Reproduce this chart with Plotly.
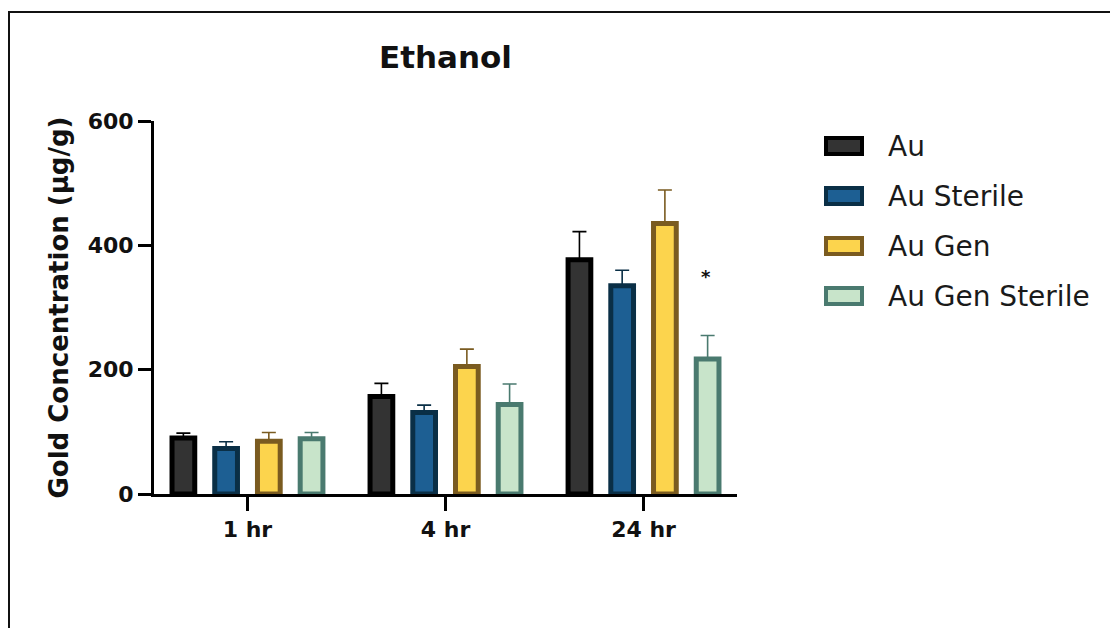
import plotly.graph_objects as go

# ---- data ----
categories = ["1 hr", "4 hr", "24 hr"]
series_names = ["Au", "Au Sterile", "Au Gen", "Au Gen Sterile"]
au_vals = [90, 157, 377]
au_err = [8, 21, 45]
au_sterile_vals = [73, 131, 335]
au_sterile_err = [11, 12, 25]
au_gen_vals = [85, 205, 435]
au_gen_err = [14, 28, 54]
au_gen_sterile_vals = [89, 144, 217]
au_gen_sterile_err = [10, 33, 38]
y_ticks = [0, 200, 400, 600]
star_label = "*"
star_category = "24 hr"
star_y = 350

values = [au_vals, au_sterile_vals, au_gen_vals, au_gen_sterile_vals]
errors = [au_err, au_sterile_err, au_gen_err, au_gen_sterile_err]

# ---- styles ----
fills = ["#333333", "#1d5f93", "#fcd44d", "#c8e4ca"]
edges = ["#000000", "#0a2f46", "#7a5b20", "#4a7a6f"]
FONT = "DejaVu Sans"

W, H = 1110, 628
L, R, T, B = 154, 373, 121, 134
PW, PH = W - L - R, H - T - B


def px_to_paper_x(px):
    return (px - L) / PW


def px_to_paper_y(py):
    return (H - B - py) / PH


fig = go.Figure()
for name, v, e, fc, ec in zip(series_names, values, errors, fills, edges):
    fig.add_trace(go.Bar(
        name=name, x=categories, y=v,
        marker=dict(color=fc, line=dict(color=ec, width=5)),
        error_y=dict(type="data", array=e, symmetric=False, arrayminus=[0] * len(e),
                     color=ec, thickness=1.6, width=7),
        showlegend=False,
    ))

# custom legend (large swatches like the original)
shapes = []
annotations = []
leg_x0, leg_x1 = 824, 864
leg_y0 = 146
leg_dy = 50
for i, (name, fc, ec) in enumerate(zip(series_names, fills, edges)):
    cy = leg_y0 + i * leg_dy
    shapes.append(dict(type="rect", xref="paper", yref="paper",
                       x0=px_to_paper_x(leg_x0 + 2), x1=px_to_paper_x(leg_x1 - 2),
                       y0=px_to_paper_y(cy - 8), y1=px_to_paper_y(cy + 8),
                       fillcolor=fc, line=dict(color=ec, width=4)))
    annotations.append(dict(xref="paper", yref="paper", x=px_to_paper_x(886),
                            y=px_to_paper_y(cy), text=name, showarrow=False,
                            xanchor="left", yanchor="middle",
                            font=dict(family=FONT, size=28, color="#1a1a1a")))

# outer frame (cropped at right/bottom as in the original)
shapes.append(dict(type="rect", xref="paper", yref="paper",
                   x0=px_to_paper_x(9), x1=px_to_paper_x(W + 20),
                   y0=px_to_paper_y(H + 20), y1=px_to_paper_y(12),
                   line=dict(color="#111111", width=2), fillcolor="rgba(0,0,0,0)",
                   layer="below"))

# y-axis title
annotations.append(dict(xref="paper", yref="paper", x=px_to_paper_x(58), y=0.5,
                        text="Gold Concentration (µg/g)", textangle=-90, showarrow=False,
                        xanchor="center", yanchor="middle",
                        font=dict(family=FONT, size=26, color="#111111", weight="bold")))

# significance star
annotations.append(dict(x=star_category, y=star_y, xref="x", yref="y", text=star_label,
                        showarrow=False, xshift=62,
                        font=dict(family=FONT, size=18, color="#111111", weight="bold")))

fig.update_layout(
    width=W, height=H,
    margin=dict(l=L, r=R, t=T, b=B, autoexpand=False),
    paper_bgcolor="white", plot_bgcolor="white",
    barmode="group", bargap=0.137, bargroupgap=0.468,
    title=dict(text="Ethanol", x=px_to_paper_x(445.5), xref="paper", xanchor="center",
               y=1 - 57 / H, yref="container", yanchor="middle",
               font=dict(family=FONT, size=31, color="#111111", weight="bold")),
    shapes=shapes, annotations=annotations,
    showlegend=False,
)
fig.update_xaxes(
    type="category", range=[-0.472, 2.472],
    showline=True, linecolor="#000000", linewidth=3,
    ticks="outside", ticklen=14, tickwidth=3, tickcolor="#000000",
    tickfont=dict(family=FONT, size=22, color="#111111", weight="bold"),
    showgrid=False, zeroline=False,
)
fig.update_yaxes(
    range=[0, 600], tickvals=y_ticks,
    showline=True, linecolor="#000000", linewidth=3,
    ticks="outside", ticklen=13, tickwidth=3, tickcolor="#000000",
    tickfont=dict(family=FONT, size=22, color="#111111", weight="bold"),
    showgrid=False, zeroline=False,
)

fig.write_html("out.html", config={"displayModeBar": False},
               post_script="document.body.style.margin='0px';document.body.style.overflow='hidden';")
